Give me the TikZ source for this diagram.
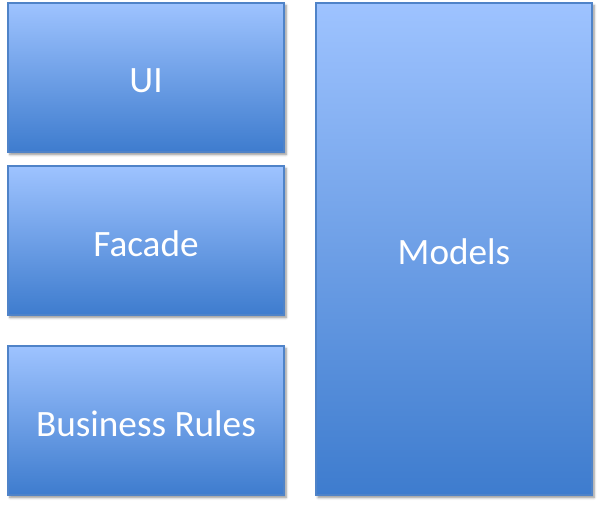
\documentclass[tikz,border=0pt]{standalone}
\usepackage{fontspec}
\setmainfont{Carlito}
\usetikzlibrary{shadows.blur}
\definecolor{topblue}{HTML}{9EC3FF}
\definecolor{botblue}{HTML}{3E7CCE}
\definecolor{edgeblue}{HTML}{4F83C8}
\tikzset{
  layer/.style={draw=edgeblue, line width=1.2pt, top color=topblue, bottom color=botblue,
    blur shadow={shadow xshift=2pt, shadow yshift=-2.5pt, shadow blur steps=6, shadow blur radius=2.5pt, shadow opacity=45}},
  label/.style={text=white, font=\fontsize{37.2}{40}\selectfont, inner sep=0pt, yshift=-3pt}
}
\begin{document}
\begin{tikzpicture}[x=1pt, y=-1pt]
\useasboundingbox (0,0) rectangle (600,506);
\draw[layer] (8,3) rectangle (284,152);
\draw[layer] (8,166) rectangle (284,315);
\draw[layer] (8,346) rectangle (284,495);
\draw[layer] (316,3) rectangle (592,495);
\node[label] (ui) at (146,77.5) {UI};
\node[label] (facade) at (146,240.5) {Facade};
\node[label] (rules) at (146,420.5) {Business Rules};
\node[label] (models) at (454,249) {Models};
\end{tikzpicture}
\end{document}
